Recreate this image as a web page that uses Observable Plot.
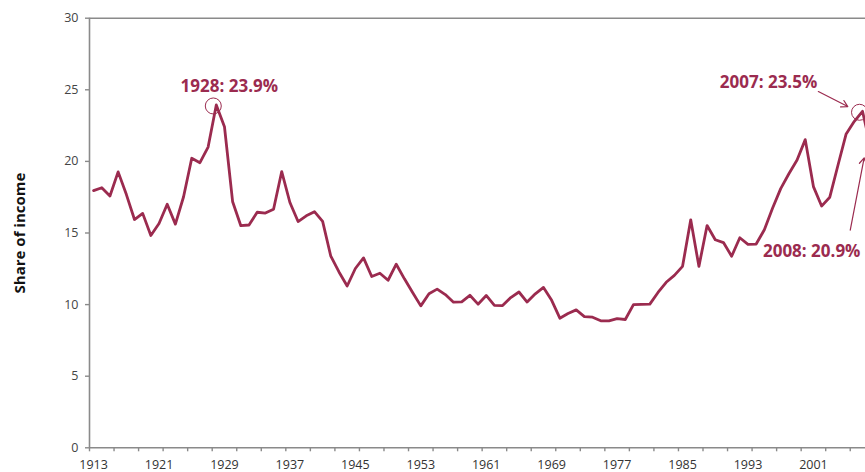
<!DOCTYPE html>
<html>
<head>
<meta charset="utf-8">
<script src="https://cdn.jsdelivr.net/npm/d3@7"></script>
<script src="https://cdn.jsdelivr.net/npm/@observablehq/plot@0.6"></script>
<style>
  html, body { margin: 0; padding: 0; background: #fff; overflow: hidden; }
  #chart svg { display: block; }
</style>
</head>
<body>
<div id="chart"></div>
<script>
// ---- data ----
const years = d3.range(1913, 2009);
const shares = [
  17.96, 18.16, 17.58, 19.27, 17.70, 15.94, 16.37, 14.83, 15.66, 17.01,
  15.62, 17.53, 20.22, 19.91, 21.00, 23.94, 22.42, 17.18, 15.51, 15.56,
  16.45, 16.39, 16.66, 19.29, 17.13, 15.80, 16.20, 16.49, 15.81, 13.38,
  12.28, 11.30, 12.52, 13.26, 11.96, 12.19, 11.70, 12.82, 11.80, 10.85,
  9.91, 10.76, 11.08, 10.70, 10.17, 10.19, 10.65, 10.03, 10.64, 9.95,
  9.93, 10.49, 10.88, 10.18, 10.75, 11.20, 10.30, 9.05, 9.38, 9.63,
  9.16, 9.12, 8.87, 8.86, 9.02, 8.96, 10.00, 10.02, 10.03, 10.85,
  11.56, 12.04, 12.67, 15.92, 12.67, 15.52, 14.53, 14.33, 13.38, 14.67,
  14.21, 14.23, 15.23, 16.73, 18.10, 19.14, 20.10, 21.52, 18.24, 16.88,
  17.50, 19.73, 21.92, 22.80, 23.50, 20.95
];
const yTicks = [0, 5, 10, 15, 20, 25, 30];
const xLabelYears = [1913, 1921, 1929, 1937, 1945, 1953, 1961, 1969, 1977, 1985, 1993, 2001];
const yAxisTitle = "Share of income";

// annotations: label and the year/value it refers to
const annLabels = ["1928: 23.9%", "2007: 23.5%", "2008: 20.9%"];
const annYears = [1928, 2007, 2008];
const annValues = [23.9, 23.5, 20.9];
const circledYears = [1928, 2007];
const circledValues = [23.94, 23.50];
// arrows (from label toward point), in data units
const arrowFromYear = [2001.6, 2005.5];
const arrowFromValue = [24.88, 15.2];
const arrowToYear = [2005.2, 2007.2];
const arrowToValue = [23.83, 20.25];

// ---- build ----
const series = years.map((y, i) => ({year: y, share: shares[i]}));
const ann = annLabels.map((t, i) => ({label: t, year: annYears[i], value: annValues[i]}));
const circles = circledYears.map((y, i) => ({year: y, value: circledValues[i]}));
const arrows = arrowFromYear.map((y, i) => ({x1: y, y1: arrowFromValue[i], x2: arrowToYear[i], y2: arrowToValue[i]}));

const W = 865, H = 472;
const mL = 89, mR = 0, mT = 17.7, mB = 24.7;
const pxPerYear = 8.18;
const xMin = 1912.5;
const xMax = xMin + (W - mL - mR) / pxPerYear;
const minorTicks = d3.range(1912.5, xMax, 3);

const red = "#9b2b4f";
const axisGray = "#8a8a8a";

const chart = Plot.plot({
  width: W,
  height: H,
  marginLeft: mL,
  marginRight: mR,
  marginTop: mT,
  marginBottom: mB,
  style: {fontFamily: "'Open Sans', sans-serif", fontSize: "12.5px", color: "#444", background: "#fff", overflow: "hidden"},
  x: {domain: [xMin, xMax]},
  y: {domain: [0, 30]},
  marks: [
    // frame: top line, left axis line, bottom axis line
    Plot.ruleY([30], {stroke: axisGray, strokeWidth: 1.6}),
    Plot.ruleY([0], {stroke: axisGray, strokeWidth: 1.6}),
    Plot.ruleX([xMin], {stroke: axisGray, strokeWidth: 1.6}),
    Plot.axisY({ticks: yTicks, tickSize: 4, tickPadding: 7, stroke: axisGray, strokeWidth: 1.4, fill: "#444", label: null}),
    Plot.axisX({ticks: minorTicks, tickSize: 4, stroke: axisGray, strokeWidth: 1.4, text: null, label: null}),
    Plot.axisX({ticks: xLabelYears, tickSize: 0, tickPadding: 12, tickFormat: d => String(d), fill: "#333", label: null}),
    Plot.text([yAxisTitle], {frameAnchor: "left", dx: -69, rotate: -90, fontWeight: "bold", fontSize: 15, fill: "#111", textAnchor: "middle", lineAnchor: "middle"}),
    Plot.line(series, {x: "year", y: "share", stroke: red, strokeWidth: 2.8, strokeLinejoin: "round", clip: true}),
    Plot.dot(circles, {x: "year", y: "value", r: 8, stroke: red, strokeWidth: 1, fill: "none", dx: -3, dy: 1}),
    Plot.arrow(arrows, {x1: "x1", y1: "y1", x2: "x2", y2: "y2", stroke: red, strokeWidth: 1.2, headLength: 9}),
    Plot.text(ann.filter(d => d.year === 1928), {x: "year", y: "value", text: "label", dx: 13, dy: -19, fill: red, fontWeight: "bold", fontSize: 17}),
    Plot.text(ann.filter(d => d.year === 2007), {x: "year", y: "value", text: "label", dx: -94, dy: -29, fill: red, fontWeight: "bold", fontSize: 17}),
    Plot.text(ann.filter(d => d.year === 2008), {x: "year", y: "value", text: "label", dx: -59, dy: 103, fill: red, fontWeight: "bold", fontSize: 17})
  ]
});
document.getElementById("chart").appendChild(chart);
</script>
</body>
</html>
